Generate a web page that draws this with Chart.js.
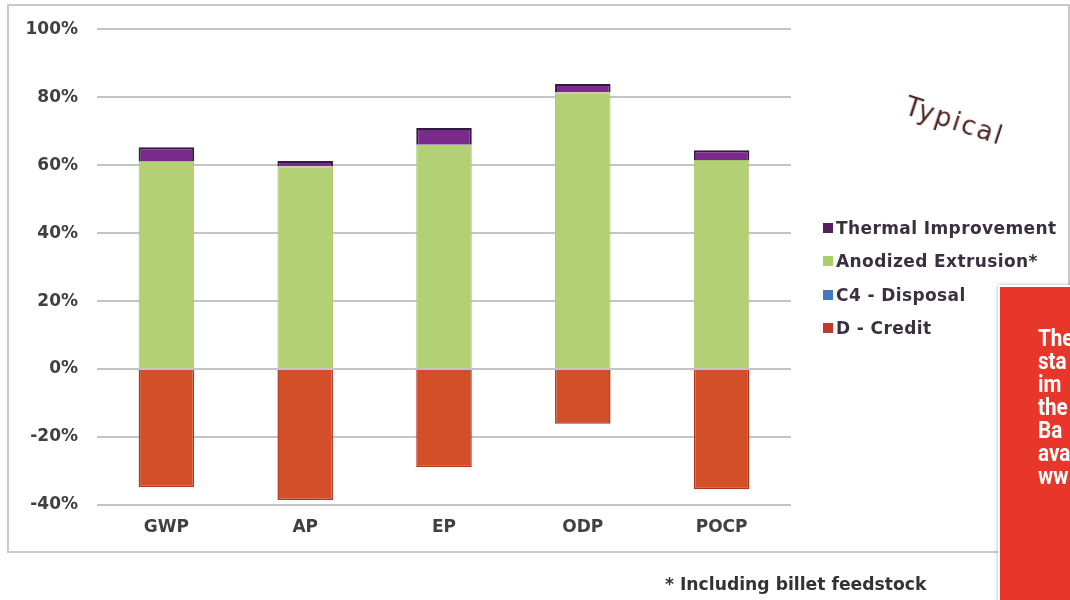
<!DOCTYPE html>
<html>
<head>
<meta charset="utf-8">
<script src="https://cdn.jsdelivr.net/npm/chart.js@4.4.0/dist/chart.umd.min.js"></script>
<style>
  html, body { margin: 0; padding: 0; background: #ffffff; }
  body { width: 1070px; height: 600px; position: relative; overflow: hidden; }
  #frame {
    position: absolute; left: 7px; top: 4px; width: 1059px; height: 545px;
    border: 2px solid #c9c9c9;
  }
  #wrap { position: absolute; left: 0; top: 0; width: 1070px; height: 600px; }
  #legend { position: absolute; left: 823px; top: 218px; font-family: "DejaVu Sans", sans-serif;
    font-weight: bold; font-size: 17px; letter-spacing: 0.4px; color: #3a3040; }
  .item { position: relative; height: 33.3px; line-height: 20px; white-space: nowrap; }
  .swatch { display: inline-block; width: 10px; height: 10px; margin-right: 3px; vertical-align: 1px; }
  #typical { position: absolute; left: 906px; top: 90px; font-family: "DejaVu Sans", sans-serif;
    font-size: 26px; letter-spacing: 2px; color: #4e2424; transform: rotate(18deg);
    transform-origin: 0 50%; white-space: nowrap; }
  #note { position: absolute; left: 665px; top: 574px; font-family: "DejaVu Sans", sans-serif;
    font-weight: bold; font-size: 17.2px; color: #333333; white-space: nowrap; }
  #box { position: absolute; left: 998px; top: 285px; width: 120px; height: 340px;
    background: #e8372a; border: 2px solid #ffffff; box-shadow: 0 0 4px rgba(0,0,0,0.3); }
  #box div { position: absolute; left: 38px; top: 40px; font-family: Roboto, "DejaVu Sans", sans-serif;
    font-weight: bold; font-size: 24px; line-height: 23px; color: #ffffff;
    transform: scaleX(0.86); transform-origin: 0 0; white-space: nowrap; }
</style>
</head>
<body>
<div id="frame"></div>
<div id="wrap"><canvas id="c" width="1070" height="600"></canvas></div>
<div id="legend"></div>
<div id="typical">Typical</div>
<div id="note">* Including billet feedstock</div>
<div id="box"><div id="boxText"></div></div>
<script>
// Impact categories along the x axis
const categories = ['GWP', 'AP', 'EP', 'ODP', 'POCP'];

// Stacked contributions (% of total impact)
const thermalImprovement = [4.1, 1.6, 4.9, 2.5, 2.9];
const anodizedExtrusion  = [61.2, 59.6, 66.0, 81.4, 61.5];
const c4Disposal         = [0, 0, 0, 0, 0];
const dCredit            = [-34.7, -38.5, -28.8, -16.1, -35.4];

// Y axis ticks
const yTicks = [-40, -20, 0, 20, 40, 60, 80, 100];

// Series names
const seriesNames = ['Thermal Improvement', 'Anodized Extrusion*', 'C4 - Disposal', 'D - Credit'];

// Sidebar text lines
const boxLines = ['The', 'sta', 'im', 'the', 'Ba', 'ava', 'ww'];

const axisFont = { family: 'DejaVu Sans', size: 17, weight: 'bold' };

const datasets = [
  { label: seriesNames[3], data: dCredit, backgroundColor: '#d34f27', borderColor: '#b3331d',
    borderWidth: 1.5, swatch: '#c0392b' },
  { label: seriesNames[2], data: c4Disposal, backgroundColor: '#4a7fc1', borderColor: '#4a7fc1',
    borderWidth: 0, swatch: '#3f78c4' },
  { label: seriesNames[1], data: anodizedExtrusion, backgroundColor: '#b4d074', borderColor: '#a6c466',
    borderWidth: 1, swatch: '#a9cf6a' },
  { label: seriesNames[0], data: thermalImprovement, backgroundColor: '#7a2a8a', borderColor: '#33193f',
    borderWidth: 2, swatch: '#55205f' }
];

new Chart(document.getElementById('c'), {
  type: 'bar',
  data: {
    labels: categories,
    datasets: datasets.map(d => ({
      label: d.label, data: d.data, backgroundColor: d.backgroundColor,
      borderColor: d.borderColor, borderWidth: d.borderWidth,
      barPercentage: 0.5, categoryPercentage: 0.8
    }))
  },
  options: {
    responsive: false,
    animation: false,
    layout: { padding: { top: 26.6, left: 0, right: 279, bottom: 55 } },
    plugins: { legend: { display: false }, tooltip: { enabled: false } },
    scales: {
      x: {
        stacked: true,
        grid: { display: false, drawTicks: false },
        border: { display: false },
        ticks: { font: axisFont, color: '#404040', padding: 12 },
        afterFit: s => { s.height = 40; }
      },
      y: {
        stacked: true,
        min: yTicks[0], max: yTicks[yTicks.length - 1],
        afterBuildTicks: s => { s.ticks = yTicks.map(v => ({ value: v })); },
        grid: { color: '#c4c4c4', lineWidth: 2, drawTicks: false },
        border: { display: false },
        ticks: { font: axisFont, color: '#404040', padding: 19, callback: v => v + '%' },
        afterFit: s => { s.width = 97; }
      }
    }
  }
});

// Legend, listed top-down in stack order
const legend = document.getElementById('legend');
datasets.slice().reverse().forEach(d => {
  const row = document.createElement('div');
  row.className = 'item';
  const sw = document.createElement('span');
  sw.className = 'swatch';
  sw.style.background = d.swatch;
  row.appendChild(sw);
  row.appendChild(document.createTextNode(d.label));
  legend.appendChild(row);
});

document.getElementById('boxText').innerHTML = boxLines.join('<br>');
</script>
</body>
</html>
